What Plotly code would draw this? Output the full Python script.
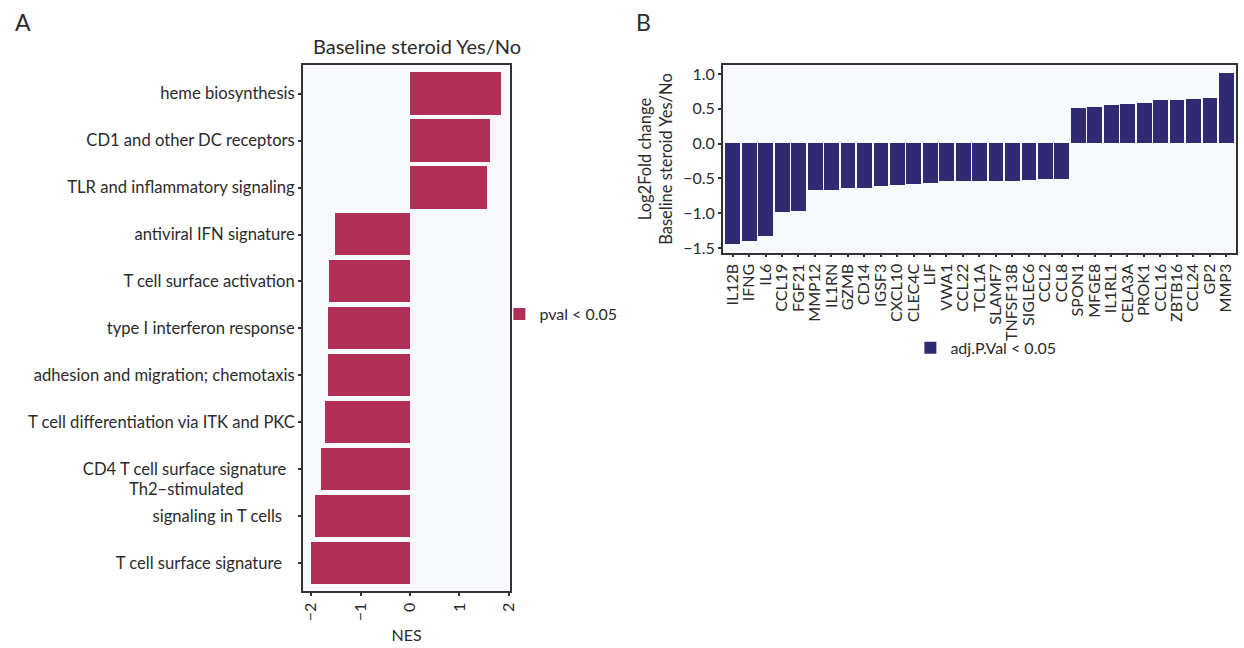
import plotly.graph_objects as go

# ---------------- data ----------------
pathways = [
    "heme biosynthesis",
    "CD1 and other DC receptors",
    "TLR and inflammatory signaling",
    "antiviral IFN signature",
    "T cell surface activation",
    "type I interferon response",
    "adhesion and migration; chemotaxis",
    "T cell differentiation via ITK and PKC",
    "CD4 T cell surface signature",
    "Th2−stimulated signaling in T cells",
    "T cell surface signature",
]
pathway_ticktext = [
    "heme biosynthesis",
    "CD1 and other DC receptors",
    "TLR and inflammatory signaling",
    "antiviral IFN signature",
    "T cell surface activation",
    "type I interferon response",
    "adhesion and migration; chemotaxis",
    "T cell differentiation via ITK and PKC",
    "CD4 T cell surface signature\u00a0\u00a0",
    "signaling in T cells\u00a0\u00a0\u00a0",
    "T cell surface signature\u00a0\u00a0\u00a0",
]
nes = [1.84, 1.62, 1.56, -1.52, -1.64, -1.66, -1.66, -1.72, -1.80, -1.92, -2.00]
nes_ticks = [-2, -1, 0, 1, 2]

genes = ["IL12B", "IFNG", "IL6", "CCL19", "FGF21", "MMP12", "IL1RN", "GZMB", "CD14",
         "IGSF3", "CXCL10", "CLEC4C", "LIF", "VWA1", "CCL22", "TCL1A", "SLAMF7",
         "TNFSF13B", "SIGLEC6", "CCL2", "CCL8", "SPON1", "MFGE8", "IL1RL1", "CELA3A",
         "PROK1", "CCL16", "ZBTB16", "CCL24", "GP2", "MMP3"]
lfc = [-1.455, -1.41, -1.34, -0.995, -0.97, -0.67, -0.67, -0.65, -0.64,
       -0.615, -0.60, -0.58, -0.57, -0.545, -0.545, -0.545, -0.545,
       -0.545, -0.53, -0.515, -0.515, 0.508, 0.52, 0.55, 0.565,
       0.58, 0.62, 0.62, 0.636, 0.65, 1.005]
lfc_ticks = [-1.5, -1.0, -0.5, 0.0, 0.5, 1.0]

# ---------------- style ----------------
W, H = 1244, 648
FONT = "Lato"
TXT = "#2b2b2b"
RED = "#B12E57"
NAVY = "#2F2A72"
BG = "#F8F9FD"
LINE = "#333333"

def px_x(p):
    return p / W

def px_y(p):
    return 1 - p / H

fig = go.Figure()

fig.add_trace(go.Bar(
    x=nes, y=pathways, orientation="h", width=0.91,
    marker=dict(color=RED, line=dict(width=0)),
    name="pval < 0.05", legend="legend", showlegend=True,
    xaxis="x", yaxis="y",
))

fig.add_trace(go.Bar(
    x=genes, y=lfc, width=0.9,
    marker=dict(color=NAVY, line=dict(width=0)),
    name="adj.P.Val < 0.05", legend="legend2", showlegend=True,
    xaxis="x2", yaxis="y2",
))

axis_common = dict(showline=True, mirror=True, linecolor=LINE, linewidth=1.5,
                   showgrid=False, zeroline=False, ticks="outside", ticklen=3,
                   tickcolor=LINE, tickwidth=1.5)

fig.update_layout(
    width=W, height=H,
    margin=dict(l=0, r=0, t=0, b=0),
    paper_bgcolor="white",
    plot_bgcolor=BG,
    showlegend=True,
    font=dict(family=FONT, color=TXT, size=16),
    bargap=0,
    xaxis=dict(domain=[px_x(303), px_x(512)], anchor="y",
               range=[-2.17, 2.03], tickvals=nes_ticks, tickangle=-90,
               tickfont=dict(size=16),
               title=dict(text="NES", font=dict(size=16), standoff=10),
               **axis_common),
    yaxis=dict(domain=[px_y(595), px_y(64)], anchor="x",
               type="category", categoryarray=pathways,
               range=[10.6, -0.6],
               tickvals=pathways, ticktext=pathway_ticktext,
               tickfont=dict(size=16.6),
               **axis_common),
    xaxis2=dict(domain=[px_x(726), px_x(1243)], anchor="y2",
                type="category", categoryarray=genes,
                range=[-0.6, 30.6], tickangle=-90,
                tickmode="array", tickvals=genes,
                tickfont=dict(size=16),
                **axis_common),
    yaxis2=dict(domain=[px_y(253), px_y(64)], anchor="x2",
                range=[-1.567, 1.124], tickvals=lfc_ticks, tickformat=".1f",
                tickfont=dict(size=16),
                title=dict(text="Log2Fold change<br>Baseline steroid Yes/No",
                           font=dict(size=16.5), standoff=6),
                **axis_common),
    legend=dict(x=px_x(501), y=px_y(315), xanchor="left", yanchor="middle",
                bgcolor="rgba(0,0,0,0)", font=dict(size=16)),
    legend2=dict(x=px_x(915), y=px_y(349), xanchor="left", yanchor="middle",
                 orientation="h", bgcolor="rgba(0,0,0,0)", font=dict(size=16)),
    annotations=[
        dict(text="A", x=px_x(11), y=px_y(20), xref="paper", yref="paper",
             xanchor="left", yanchor="middle", showarrow=False,
             font=dict(size=23, color=TXT)),
        dict(text="B", x=px_x(637), y=px_y(20), xref="paper", yref="paper",
             xanchor="left", yanchor="middle", showarrow=False,
             font=dict(size=23, color=TXT)),
        dict(text="Baseline steroid Yes/No", x=px_x(418), y=px_y(44),
             xref="paper", yref="paper", xanchor="center", yanchor="middle",
             showarrow=False, font=dict(size=20, color=TXT)),
        dict(text="Th2−stimulated", x=px_x(246), y=9, xref="paper", yref="y",
             xanchor="right", yanchor="middle", yshift=27, showarrow=False,
             font=dict(size=16.6, color=TXT)),
    ],
)

fig.write_html("out.html")
